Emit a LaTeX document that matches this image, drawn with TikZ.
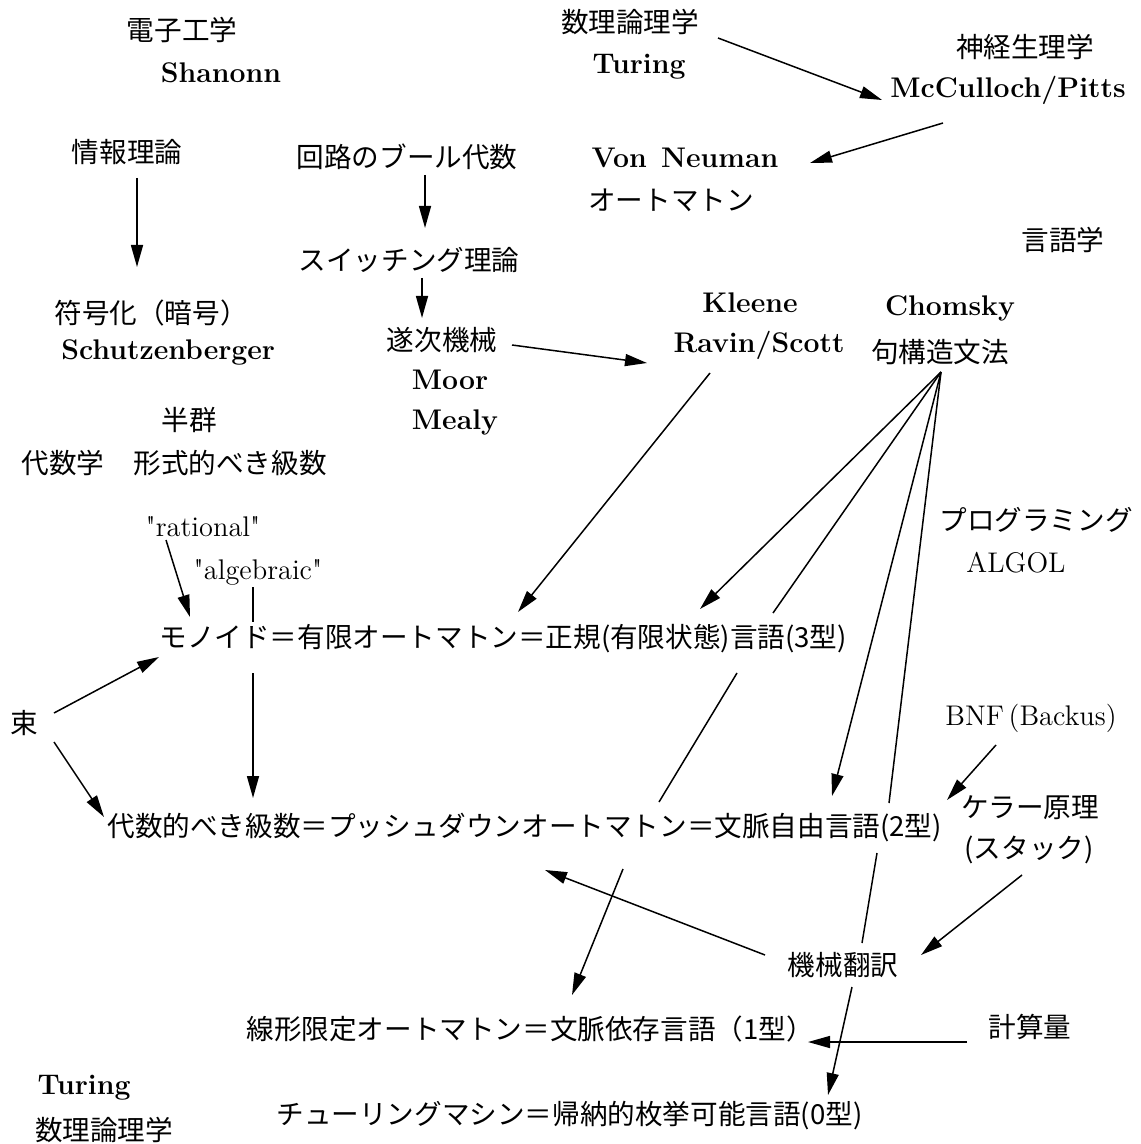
\documentclass[tikz,border=0pt]{standalone}
\usepackage{fontspec}
\newfontfamily\jp{Noto Sans CJK JP}
\usetikzlibrary{arrows.meta}
\begin{document}
\begin{tikzpicture}[x=0.5pt,y=-0.5pt,
  every node/.style={inner sep=0pt},
  jt/.style={font=\jp\fontsize{13.8}{16}\selectfont},
  lt/.style={font=\fontsize{14.2}{17}\selectfont},
  bt/.style={font=\bfseries\fontsize{14.2}{17}\selectfont},
  arr/.style={-{Triangle[length=11pt,width=6pt]}, line width=0.75pt},
  ln/.style={line width=0.75pt}]
\useasboundingbox (0,0) rectangle (1140,1144);
% ---------- nodes ----------
\node[jt] (denshi) at (182,30) {電子工学};
\node[bt] (shannon) at (221,73) {Shanonn};
\node[jt] (joho) at (127,152) {情報理論};
\node[jt] (kairo) at (407,157) {回路のブール代数};
\node[jt] (suri1) at (630,22) {数理論理学};
\node[bt] (turing1) at (639,67) {Turing};
\node[jt] (shinkei) at (1025,47) {神経生理学};
\node[bt] (mcc) at (1008,90) {McCulloch/Pitts};
\node[bt] (neumann) at (685,158) {Von\hspace{0.5em}Neuman};
\node[jt] (automaton) at (671,200) {オートマトン};
\node[jt] (gengo) at (1063,240) {言語学};
\node[jt] (switching) at (409,260) {スイッチング理論};
\node[jt] (fugo) at (151,313) {符号化（暗号）};
\node[bt, anchor=west] (schutz) at (61,352) {Schutzenberger};
\node[jt] (chikuji) at (442,340) {遂次機械};
\node[bt] (moor) at (450,380) {Moor};
\node[bt] (mealy) at (455,422) {Mealy};
\node[bt] (kleene) at (750,303) {Kleene};
\node[bt] (ravin) at (759,345) {Ravin/Scott};
\node[bt] (chomsky) at (950,308) {Chomsky};
\node[jt] (ku) at (940,352) {句構造文法};
\node[jt] (hangun) at (189,420) {半群};
\node[jt] (daisugaku) at (63,463) {代数学};
\node[jt] (keishiki) at (230,463) {形式的べき級数};
\node[lt] (rational) at (203,527) {\textquotedbl rational\textquotedbl};
\node[lt] (algebraic) at (258,572) {\textquotedbl algebraic\textquotedbl};
\node[jt] (prog) at (1036,520) {プログラミング};
\node[lt] (algol) at (1016,563) {ALGOL};
\node[jt, anchor=west] (re3) at (159,639) {モノイド＝有限オートマトン＝正規(有限状態)言語(3型)};
\node[jt] (soku) at (24,723) {束};
\node[lt] (bnf) at (1031,718) {BNF\,(Backus)};
\node[jt] (keller) at (1030,808) {ケラー原理};
\node[jt] (stack) at (1029,850) {(スタック)};
\node[jt, anchor=west] (cf2) at (107,828) {代数的べき級数＝プッシュダウンオートマトン＝文脈自由言語(2型)};
\node[jt] (mt) at (843,965) {機械翻訳};
\node[jt, anchor=west] (cs1) at (246,1029) {線形限定オートマトン＝文脈依存言語（1型）};
\node[jt] (keisan) at (1030,1027) {計算量};
\node[bt] (turing2) at (84,1088) {Turing};
\node[jt] (suri2) at (104,1130) {数理論理学};
\node[jt, anchor=west] (re0) at (276,1116) {チューリングマシン＝帰納的枚挙可能言語(0型)};
% ---------- connector end points ----------
\coordinate (joho-s) at (137,178);   \coordinate (fugo-n) at (137,267);
\coordinate (kairo-s) at (425,175);  \coordinate (sw-n) at (425,228);
\coordinate (sw-s) at (422,278);     \coordinate (chikuji-n) at (422,318);
\coordinate (chikuji-e) at (512,345);\coordinate (ravin-w) at (647,363);
\coordinate (suri1-e) at (718,38);   \coordinate (mcc-w) at (882,100);
\coordinate (mcc-s) at (943,123);    \coordinate (neumann-e) at (810,163);
\coordinate (ravin-s) at (710,373);  \coordinate (re3-a) at (518,612);
\coordinate (ku-s) at (941,372);
\coordinate (re3-b) at (700,609);    \coordinate (re3-c) at (773,613);
\coordinate (re3-d) at (737,673);    \coordinate (cf2-a) at (659,802);
\coordinate (cf2-b) at (832,796);    \coordinate (cf2-c) at (889,803);
\coordinate (cf2-d) at (877,853);    \coordinate (mt-n) at (862,943);
\coordinate (cf2-e) at (623,869);    \coordinate (cs1-a) at (572,995);
\coordinate (alg-s) at (253,587);    \coordinate (re3-e) at (253,622);
\coordinate (re3-f) at (253,673);    \coordinate (cf2-f) at (253,798);
\coordinate (rat-s) at (166,540);    \coordinate (re3-g) at (190,617);
\coordinate (soku-ne) at (54,713);   \coordinate (re3-sw) at (159,657);
\coordinate (soku-se) at (54,742);   \coordinate (cf2-nw) at (104,817);
\coordinate (bnf-s) at (996,745);    \coordinate (keller-w) at (947,800);
\coordinate (stack-s) at (1022,875); \coordinate (mt-e) at (921,955);
\coordinate (mt-w) at (765,955);     \coordinate (cf2-g) at (545,870);
\coordinate (mt-s) at (852,987);     \coordinate (re0-n) at (828,1095);
\coordinate (keisan-w) at (967,1042);\coordinate (cs1-e) at (808,1042);
% ---------- connectors ----------
\draw[arr] (joho-s) -- (fugo-n);
\draw[arr] (kairo-s) -- (sw-n);
\draw[arr] (sw-s) -- (chikuji-n);
\draw[arr] (chikuji-e) -- (ravin-w);
\draw[arr] (suri1-e) -- (mcc-w);
\draw[arr] (mcc-s) -- (neumann-e);
\draw[arr] (ravin-s) -- (re3-a);
\draw[arr] (ku-s) -- (re3-b);
\draw[ln]  (ku-s) -- (re3-c);
\draw[ln]  (re3-d) -- (cf2-a);
\draw[arr] (cf2-e) -- (cs1-a);
\draw[arr] (ku-s) -- (cf2-b);
\draw[ln]  (ku-s) -- (cf2-c);
\draw[ln]  (cf2-d) -- (mt-n);
\draw[ln]  (alg-s) -- (re3-e);
\draw[arr] (re3-f) -- (cf2-f);
\draw[arr] (rat-s) -- (re3-g);
\draw[arr] (soku-ne) -- (re3-sw);
\draw[arr] (soku-se) -- (cf2-nw);
\draw[arr] (bnf-s) -- (keller-w);
\draw[arr] (stack-s) -- (mt-e);
\draw[arr] (mt-w) -- (cf2-g);
\draw[arr] (mt-s) -- (re0-n);
\draw[arr] (keisan-w) -- (cs1-e);
\end{tikzpicture}
\end{document}
